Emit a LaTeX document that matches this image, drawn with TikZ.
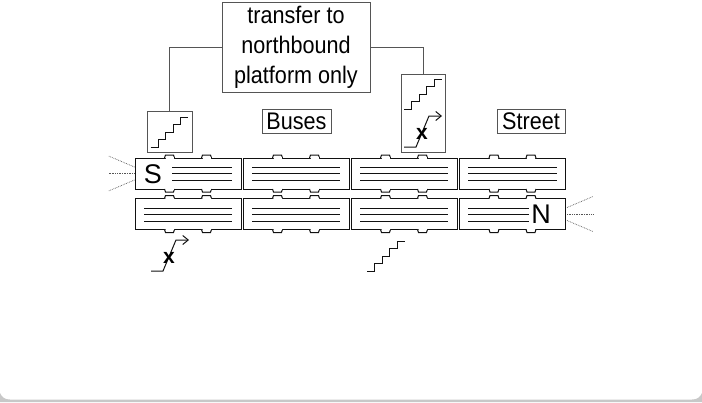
\documentclass[tikz,border=0pt]{standalone}
\usepackage{fontspec}
\setmainfont{Liberation Sans}
\newfontfamily\narrowfont[FakeStretch=.9]{Liberation Sans}
\usetikzlibrary{arrows.meta}
\definecolor{ink}{HTML}{111111}
\definecolor{frame}{HTML}{555555}
\definecolor{band}{HTML}{C8C8C8}

\begin{document}
\begin{tikzpicture}[
  x=1pt, y=-1pt,
  font=\narrowfont\fontsize{24}{30}\selectfont,
  label/.style={draw=frame, line width=1pt, fill=white, align=center,
    inner sep=0pt, text=black},
  access/.style={draw=frame, line width=1pt, fill=white, inner sep=0pt},
  link/.style={draw=frame, line width=1pt},
  car/.style={draw=ink, line width=1pt, fill=white, inner sep=0pt,
    minimum width=106pt, minimum height=31pt},
  track/.style={draw=ink, line width=1pt},
  ray/.style={draw=frame, line width=.7pt, densely dotted},
  stairs/.pic={
    \draw[draw=ink, line width=1pt] (0,0) -- ++(7.5,0) -- ++(0,-7.5) -- ++(7.5,0)
      -- ++(0,-7.5) -- ++(7.5,0) -- ++(0,-7.5) -- ++(7.5,0)
      -- ++(0,-7.5) -- ++(7.5,0);
  },
  escalator/.pic={
    \draw[draw=ink, line width=1pt, -{Straight Barb[length=5.5pt,width=9pt]}]
      (0,0) -- ++(12,0) -- ++(13,-31) -- ++(13,0);
    \node[inner sep=0pt, font=\bfseries\fontsize{21}{21}\selectfont] (-mark) at (18,-13.5) {x};
  }
]
\useasboundingbox (0,0) rectangle (702,402);
\fill[band] (0,402) -- (0,393) .. controls (2,397.5) and (5,399.5) .. (10,399.5)
  -- (692,399.5) .. controls (697,399.5) and (700,397.5) .. (702,393) -- (702,402) -- cycle;

% Two platforms, four cars each, tracks and doors repeat per car.
\foreach \name/\cx/\cy/\ty/\first/\last in {
  s1/188/173.5/173.5/172/232, s2/296/173.5/173.5/252/340, s3/404/173.5/173.5/360/448,
  s4/512.5/173.5/173.5/468/557, n1/188/214/214.5/144/232, n2/296/214/214.5/252/340,
  n3/404/214/214.5/360/448, n4/512.5/214/214.5/468/529} {
  \node[car] (\name) at (\cx,\cy) {};
  \foreach \door in {-18.5,18.5} {
    \draw[draw=ink, line width=1pt, fill=white] (\cx+\door-5,\cy-15.5) -- ++(1,-3) -- ++(8,0) -- ++(1,3);
    \draw[draw=ink, line width=1pt, fill=white] (\cx+\door-5,\cy+15.5) -- ++(1,3) -- ++(8,0) -- ++(1,-3);
    \draw[white, line width=1.2pt] (\cx+\door-4,\cy-15.5) -- ++(8,0) (\cx+\door-4,\cy+15.5) -- ++(8,0);
  }
  \foreach \dy in {-6.5,0,6.5} {
    \draw[track] (\first,\ty+\dy) -- (\last,\ty+\dy);
  }
}
\node[inner sep=0pt, font=\rmfamily\fontsize{27}{27}\selectfont] (south) at (153,174) {S};
\node[inner sep=0pt, font=\rmfamily\fontsize{27}{27}\selectfont] (north) at (541,214.5) {N};

\foreach \dy/\ey in {6.5/-11,0/0,-6.5/11} {
  \draw[ray] ([yshift=\dy pt]s1.west) -- ++(-26,\ey);
  \draw[ray] ([yshift=\dy pt,xshift=1pt]n4.east) -- ++(26,\ey);
}

\node[label, minimum width=148pt, minimum height=90pt] (transfer) at (296,47)
  {transfer to\\northbound\\platform only};
\node[label, minimum width=69pt, minimum height=24pt] (buses) at (296.5,121) {Buses};
\node[label, minimum width=68pt, minimum height=24pt] (street) at (531,121) {Street};

\node[access, minimum width=45pt, minimum height=41pt] (stairsouth) at (169.5,131.5) {};
\node[access, minimum width=44pt, minimum height=78pt] (accessmid) at (423,113) {};
\draw[link] (transfer.west) -| (stairsouth.north);
\draw[link] (transfer.east) -| (accessmid.north);

\pic at (150.5,147) {stairs};
\pic at (404,109) {stairs};
\pic (escalmid) at (404,147) {escalator};
\pic (escalsouth) at (151,271) {escalator};
\pic at (367,271) {stairs};
\end{tikzpicture}
\end{document}
